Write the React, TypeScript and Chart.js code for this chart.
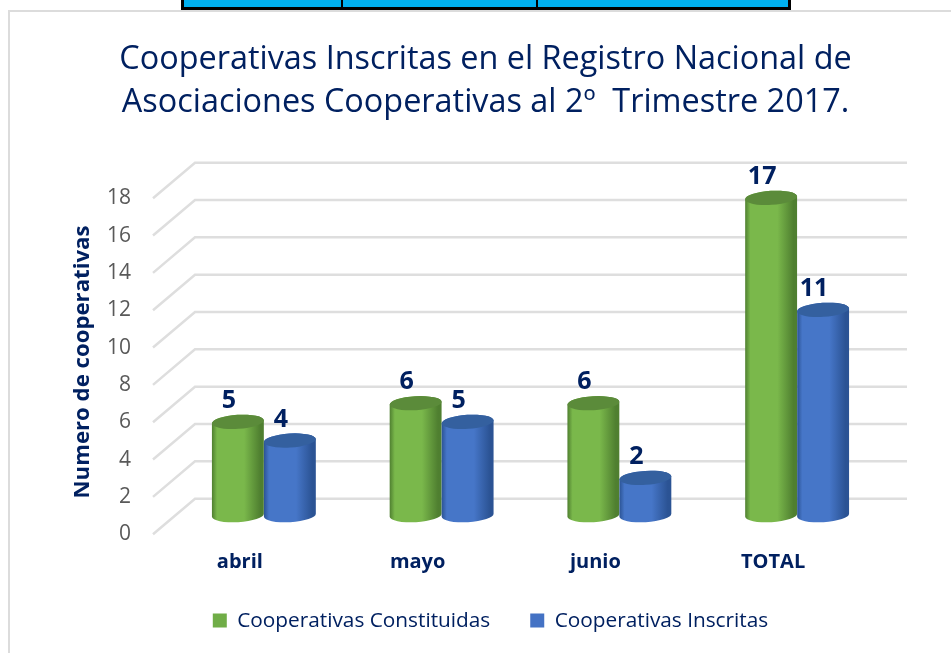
import React, { useEffect, useRef } from "react";
import { Chart, registerables } from "chart.js";

Chart.register(...registerables);

const categories = ["abril", "mayo", "junio", "TOTAL"];
const constituidas = [5, 6, 6, 17];
const inscritas = [4, 5, 2, 11];
const yTicksMax = 18;
const yStep = 2;
const titleLines = [
  "Cooperativas Inscritas en el Registro Nacional de",
  "Asociaciones Cooperativas al 2º  Trimestre 2017.",
];
const yTitle = "Numero de cooperativas";
const FONT = "'Open Sans', sans-serif";
const NAVY = "#002060";

const palettes = [
  { edge: "#4F7F30", mid: "#7AB84B", top: "#5B8B3A", swatch: "#70AD47" },
  { edge: "#2B5394", mid: "#4676C8", top: "#34609F", swatch: "#4472C4" },
];

const cylinderPlugin = {
  id: "cylinders",
  afterLayout(chart: any) {
    chart.legend.left += 10;
    chart.legend.top -= 9;
    chart.legend.bottom -= 9;
  },
  beforeDatasetsDraw(chart: any) {
    const { ctx, scales } = chart;
    const y = scales.y;
    ctx.save();
    ctx.strokeStyle = "#dedede";
    ctx.lineWidth = 2.5;
    for (const t of y.ticks) {
      const py = y.getPixelForValue(t.value);
      ctx.beginPath();
      ctx.moveTo(153, py + 19);
      ctx.lineTo(195, py - 16.5);
      ctx.lineTo(907, py - 16.5);
      ctx.stroke();
    }
    ctx.restore();
    // rotated axis title
    ctx.save();
    ctx.translate(83, 362);
    ctx.rotate(-Math.PI / 2);
    ctx.fillStyle = NAVY;
    ctx.font = `bold 22.2px ${FONT}`;
    ctx.textAlign = "center";
    ctx.textBaseline = "middle";
    ctx.fillText(yTitle, 0, 0);
    ctx.restore();
  },
  beforeDatasetDraw() {
    return false;
  },
  afterDatasetsDraw(chart: any) {
    const { ctx } = chart;
    chart.data.datasets.forEach((ds: any, di: number) => {
      const meta = chart.getDatasetMeta(di);
      const pal = palettes[di];
      meta.data.forEach((el: any, i: number) => {
        const cx = el.x;
        const rx = el.width / 2;
        const ry = 7;
        const rot = -0.06;
        const topY = el.y;
        const baseY = el.base;
        const g = ctx.createLinearGradient(cx - rx, 0, cx + rx, 0);
        g.addColorStop(0, pal.edge);
        g.addColorStop(0.1, pal.mid);
        g.addColorStop(0.62, pal.mid);
        g.addColorStop(0.93, pal.edge);
        g.addColorStop(1, pal.edge);
        ctx.save();
        ctx.filter = "blur(0.7px)";
        ctx.beginPath();
        ctx.ellipse(cx, baseY, rx, ry, rot, 0, Math.PI);
        ctx.ellipse(cx, topY, rx, ry, rot, Math.PI, Math.PI * 2);
        ctx.closePath();
        ctx.fillStyle = g;
        ctx.fill();
        ctx.beginPath();
        ctx.ellipse(cx, topY, rx, ry, rot, 0, Math.PI * 2);
        ctx.fillStyle = pal.top;
        ctx.fill();
        ctx.restore();
      });
    });
    chart.data.datasets.forEach((ds: any, di: number) => {
      const meta = chart.getDatasetMeta(di);
      meta.data.forEach((el: any, i: number) => {
        ctx.save();
        ctx.fillStyle = NAVY;
        ctx.font = `bold 25px ${FONT}`;
        ctx.textAlign = "center";
        ctx.textBaseline = "middle";
        ctx.fillText(String(ds.data[i]), el.x - 9, el.y - 21);
        ctx.restore();
      });
    });
  },
};

export default function App() {
  const ref = useRef<HTMLCanvasElement>(null);
  useEffect(() => {
    if (!ref.current) return;
    const chart = new Chart(ref.current, {
      type: "bar",
      data: {
        labels: categories,
        datasets: [
          { label: "Cooperativas Constituidas", data: constituidas, backgroundColor: palettes[0].swatch, barPercentage: 1, categoryPercentage: 0.585 },
          { label: "Cooperativas Inscritas", data: inscritas, backgroundColor: palettes[1].swatch, barPercentage: 1, categoryPercentage: 0.585 },
        ],
      },
      options: {
        responsive: false,
        animation: false,
        layout: { padding: { left: 85, right: 65, top: 38, bottom: 3 } },
        plugins: {
          title: {
            display: true,
            text: titleLines,
            color: NAVY,
            font: { family: FONT, size: 32.4, weight: "normal", lineHeight: 1.33 },
            padding: { top: 0, bottom: 55 },
          },
          legend: {
            position: "bottom",
            labels: {
              boxWidth: 14,
              boxHeight: 14,
              color: NAVY,
              padding: 40,
              font: { family: FONT, size: 20.8 },
            },
          },
          tooltip: { enabled: false },
        },
        scales: {
          x: {
            grid: { display: false },
            border: { display: false },
            afterFit(scale: any) {
              scale.height = 64;
            },
            ticks: {
              color: NAVY,
              font: { family: FONT, size: 20, weight: "bold" },
              labelOffset: -24,
              padding: 27,
            },
          },
          y: {
            min: 0,
            max: yTicksMax,
            grid: { display: false, drawTicks: false },
            border: { display: false },
            afterFit(scale: any) {
              scale.width = 90;
            },
            ticks: {
              stepSize: yStep,
              color: "#595959",
              font: { family: FONT, size: 21 },
              labelOffset: 19,
              padding: 44,
            },
          },
        },
      },
      plugins: [cylinderPlugin],
    } as any);
    return () => chart.destroy();
  }, []);

  return (
    <div style={{ position: "absolute", left: 0, top: 0, width: 951, height: 653, overflow: "hidden", background: "#fff" }}>
      <div style={{ position: "absolute", left: 181, top: 0, width: 604, height: 7, background: "#00B0F0", borderLeft: "3px solid #000", borderRight: "3px solid #000", borderBottom: "3px solid #000" }}>
        <div style={{ position: "absolute", left: 157, top: 0, width: 2, height: 7, background: "#000" }} />
        <div style={{ position: "absolute", left: 352, top: 0, width: 2, height: 7, background: "#000" }} />
      </div>
      <div style={{ position: "absolute", left: 8, top: 10, width: 960, height: 660, border: "2px solid #dcdcdc" }} />
      <canvas ref={ref} width={951} height={653} style={{ position: "absolute", left: 0, top: 0 }} />
    </div>
  );
}
